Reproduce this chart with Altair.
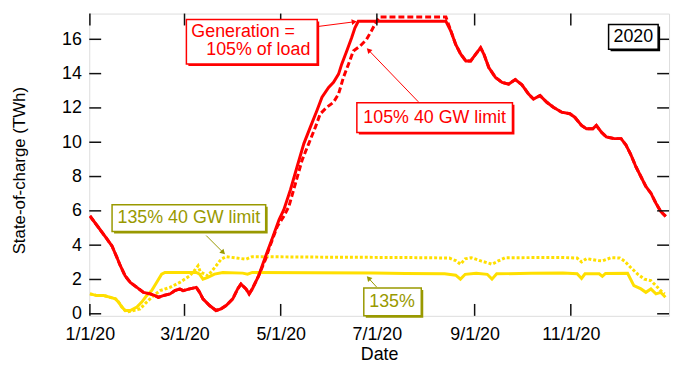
import math
import altair as alt
import pandas as pd

FONT = "Liberation Sans"
RED = "#ff0000"
YEL = "#ffdf00"
OLIVE = "#999900"

# ---- data: day of 2020 (0 = 1 Jan) and state-of-charge (TWh) ----
gen105_day = [0, 5.7, 10.9, 14, 17.2, 19.3, 22.4, 25.6, 29.8, 34, 38.2, 41.3, 43.4, 46.5,
              50.8, 53.9, 57, 59.1, 63.3, 67.5, 69.6, 71.7, 75.9, 80, 83.2, 86.4, 90.6,
              93.7, 95.8, 99, 101, 103, 107, 111.5, 115.7, 120, 123, 127.2, 131.4, 135.7,
              139.8, 144, 147.2, 151.4, 154.5, 157.7, 159.7, 162.9, 166, 168.1, 170.2,
              225.8, 229, 232, 235.2, 238.4, 241.5, 244.7, 247.8, 249.9, 253, 257.2, 261.4,
              265.6, 269.8, 274, 278.2, 281.3, 285.5, 289.8, 293.9, 299.2, 304.4, 307.5,
              311.8, 314.9, 319, 321.2, 324.3, 327.5, 332.7, 336.9, 340, 343.2, 346.3,
              349.5, 352.6, 355.8, 358.9, 362, 365.2]
gen105_val = [5.7, 5.0, 4.35, 3.95, 3.27, 2.8, 2.2, 1.83, 1.54, 1.25, 1.16, 1.06, 0.96, 1.06,
              1.16, 1.35, 1.45, 1.35, 1.45, 1.54, 1.25, 0.87, 0.48, 0.19, 0.29, 0.48, 0.87,
              1.45, 1.73, 1.45, 1.16, 1.45, 2.21, 3.37, 4.4, 5.49, 6.07, 7.23, 8.57, 9.92,
              10.88, 11.85, 12.62, 13.2, 13.49, 13.97, 14.55, 15.32, 16.09, 16.67, 17.05,
              17.05, 16.47, 15.7, 15.13, 14.74, 14.74, 15.13, 15.51, 15.13, 14.35, 13.78, 13.49,
              13.39, 13.65, 13.35, 12.81, 12.52, 12.72, 12.33, 12.04, 11.75, 11.66, 11.46,
              10.98, 10.79, 10.79, 10.98, 10.6, 10.31, 10.21, 10.21, 9.83, 9.25, 8.57,
              7.99, 7.42, 7.03, 6.46, 5.97, 5.68]

# 105% with 40 GW limit: identical to the above until early April, then its own rise and plateau
lim105_day = gen105_day[:33] + [111.5, 114, 118.9, 123, 126.2, 130.4, 134.6, 138.8, 143, 146.1,
                                150.3, 154.5, 157.7, 160.8, 164, 167.1, 171.3, 175.5, 178.6,
                                181.8, 183.8, 225.8] + gen105_day[52:]
lim105_val = gen105_val[:33] + [3.2, 3.9, 5.1, 5.68, 6.26, 7.61, 8.96, 9.92, 10.88, 11.66,
                                12.04, 12.33, 12.81, 13.78, 14.55, 15.32, 15.6, 16.0, 16.5,
                                17.05, 17.3, 17.3] + gen105_val[52:]

gen135_day = [0, 4.6, 8.8, 13, 16.2, 18.2, 20.3, 22.4, 25.6, 29.8, 32.9, 36, 39.2, 42.3, 45.5,
              47.6, 67.5, 69.6, 71.7, 74.8, 79, 84.3, 96.9, 100, 103, 180, 200, 225, 232, 235,
              238, 245, 252, 255, 258, 280, 300, 309, 311.8, 314, 323, 325, 327, 341, 345,
              349.5, 352.6, 355.8, 359, 362, 365]
gen135_val = [1.16, 1.06, 1.06, 0.96, 0.87, 0.68, 0.39, 0.19, 0.19, 0.39, 0.68, 1.06, 1.35, 1.83,
              2.31, 2.41, 2.41, 2.31, 2.02, 2.12, 2.31, 2.41, 2.37, 2.31, 2.41, 2.38, 2.35, 2.33,
              2.25, 2.02, 2.3, 2.36, 2.3, 2.02, 2.33, 2.36, 2.38, 2.33, 2.06, 2.33, 2.33, 2.18,
              2.35, 2.36, 1.64, 1.45, 1.25, 1.45, 1.16, 1.25, 0.96]

lim135_day = gen135_day[:6] + [21, 23.5, 27.7, 31.9, 36, 40.3, 44.5, 50.8, 57, 63.3, 67, 68.6, 70,
                               74.8, 80, 83.2, 86.4, 99, 103, 150, 200, 228, 232, 235, 238, 242,
                               248, 255, 259, 263.5, 300, 309, 311.8, 315, 322, 325, 330.6, 336,
                               339, 343, 347.4, 351.6, 355.8, 359, 362, 364.5]
lim135_val = gen135_val[:6] + [0.3, 0.1, 0.19, 0.29, 0.68, 1.06, 1.35, 1.54, 1.83, 2.21, 2.6, 2.8,
                               2.45, 2.21, 2.79, 3.18, 3.33, 3.18, 3.33, 3.3, 3.28, 3.25, 3.1,
                               2.89, 3.2, 3.27, 3.08, 2.89, 3.08, 3.27, 3.28, 3.25, 3.02, 3.22,
                               3.1, 3.08, 3.27, 3.25, 3.08, 2.7, 2.31, 2.02, 1.93, 1.64, 1.35,
                               1.16]

x_tick_dates = ["2020-01-01", "2020-03-01", "2020-05-01", "2020-07-01", "2020-09-01", "2020-11-01"]
y_tick_values = [0, 2, 4, 6, 8, 10, 12, 14, 16]

# ---- build tables ----
start = pd.Timestamp("2020-01-01")


def series(days, vals, name):
    return pd.DataFrame({
        "date": start + pd.to_timedelta(days, unit="D"),
        "value": vals,
        "series": name,
    })


df = pd.concat([
    series(gen135_day, gen135_val, "135%"),
    series(lim135_day, lim135_val, "135% 40 GW limit"),
    series(gen105_day, gen105_val, "105%"),
    series(lim105_day, lim105_val, "105% 40 GW limit"),
], ignore_index=True)

W, H = 585, 305
TL = 12  # inward tick length

x_scale = alt.Scale(domain=[alt.DateTime(year=2019, month=12, date=31, hours=14, minutes=24),
                            alt.DateTime(year=2021, month=1, date=2, hours=7, minutes=12)],
                    nice=False)
y_scale = alt.Scale(domain=[-0.12, 17.5], nice=False, zero=False)

x_axis = alt.Axis(
    values=[alt.DateTime(year=2020, month=m, date=1) for m in (1, 3, 5, 7, 9, 11)],
    format="%-m/%-d/%y", title="Date", grid=False, ticks=False, tickSize=0, domain=False,
    labelPadding=10, labelFlush=False, labelOverlap=False,
    labelFont=FONT, labelFontSize=18, labelColor="black",
    titleFont=FONT, titleFontSize=18, titleFontWeight="normal", titleColor="black",
    titleX=W / 2, titleY=39, titleBaseline="middle", titleAlign="center",
)
y_axis = alt.Axis(
    values=y_tick_values, title="State-of-charge (TWh)", grid=False, ticks=False, tickSize=0,
    domain=False, labelPadding=8, labelFlush=False, labelOverlap=False,
    labelFont=FONT, labelFontSize=18, labelColor="black",
    titleFont=FONT, titleFontSize=17, titleFontWeight="normal", titleColor="black",
    titleX=-70, titleY=158, titleAngle=270, titleBaseline="middle", titleAlign="center",
)

x_enc = alt.X("date:T", scale=x_scale, axis=x_axis)
y_enc = alt.Y("value:Q", scale=y_scale, axis=y_axis)


def line(name, color, width, dash=None):
    kw = dict(color=color, strokeWidth=width, clip=True)
    if dash:
        kw["strokeDash"] = dash
    return alt.Chart(df).transform_filter(alt.datum.series == name).mark_line(**kw).encode(
        x=x_enc, y=y_enc)


layers = [
    line("135%", YEL, 3),
    line("135% 40 GW limit", YEL, 3, [3, 2]),
    line("105%", RED, 3),
    line("105% 40 GW limit", RED, 3, [6, 3]),
]

# inward ticks on all four sides
xt = pd.DataFrame({"date": pd.to_datetime(x_tick_dates)})
yt = pd.DataFrame({"value": y_tick_values})
tick_style = dict(color="#111111", strokeWidth=1.5)
layers += [
    alt.Chart(xt).mark_rule(**tick_style).encode(x=x_enc, y=alt.value(H), y2=alt.value(H - TL)),
    alt.Chart(xt).mark_rule(**tick_style).encode(x=x_enc, y=alt.value(0), y2=alt.value(TL)),
    alt.Chart(yt).mark_rule(**tick_style).encode(y=y_enc, x=alt.value(0), x2=alt.value(TL)),
    alt.Chart(yt).mark_rule(**tick_style).encode(y=y_enc, x=alt.value(W - TL), x2=alt.value(W)),
]

one = pd.DataFrame({"k": [0]})


def box(x1, y1, x2, y2, color):
    shadow = alt.Chart(one).mark_rect(color=color).encode(
        x=alt.value(x1 + 2), x2=alt.value(x2 + 2), y=alt.value(y1 + 2), y2=alt.value(y2 + 2))
    face = alt.Chart(one).mark_rect(fill="white", stroke=color, strokeWidth=1.5).encode(
        x=alt.value(x1), x2=alt.value(x2), y=alt.value(y1), y2=alt.value(y2))
    return [shadow, face]


def label(text, x, y, color, align="center"):
    return alt.Chart(one).mark_text(text=text, color=color, font=FONT, fontSize=18,
                                    align=align, baseline="middle").encode(
        x=alt.value(x), y=alt.value(y))


def arrow(x1, y1, x2, y2, color):
    dx, dy = x2 - x1, y2 - y1
    n = math.hypot(dx, dy)
    ux, uy = dx / n, dy / n
    cx, cy = x2 - 3.5 * ux, y2 - 3.5 * uy
    ang = math.degrees(math.atan2(dx, -dy)) % 360
    rule = alt.Chart(one).mark_rule(color=color, strokeWidth=1).encode(
        x=alt.value(x1), y=alt.value(y1), x2=alt.value(cx), y2=alt.value(cy))
    head = alt.Chart(one).mark_point(shape="triangle", filled=True, size=35, color=color,
                                     opacity=1, angle=ang).encode(
        x=alt.value(cx), y=alt.value(cy))
    return [rule, head]


layers += arrow(231, 13, 270, 8, RED)
layers += arrow(332, 89, 280, 35, RED)
layers += arrow(118, 224, 137, 243, OLIVE)
layers += arrow(290, 276, 280, 265, OLIVE)

layers += box(98, 6, 230, 51, RED)
layers += [label("Generation =", 103, 19, RED, "left"), label("105% of load", 118, 37, RED, "left")]
layers += box(270, 90, 427, 120, RED)
layers += [label("105% 40 GW limit", 348.5, 105, RED)]
layers += box(524, 11, 574, 36, "black")
layers += [label("2020", 549, 23.5, "black")]
layers += box(23, 193, 178, 220, OLIVE)
layers += [label("135% 40 GW limit", 100.5, 206, OLIVE)]
layers += box(277, 277, 335, 305, OLIVE)
layers += [label("135%", 305.5, 291, OLIVE)]

chart = alt.layer(*layers).properties(
    width=W, height=H,
    autosize=alt.AutoSizeParams(type="none"),
    padding={"left": 82, "top": 4, "right": 5, "bottom": 50},
).configure_view(stroke="#111111", strokeWidth=1.5).configure(background="white")

chart.save("out.html", embed_options={"renderer": "svg", "actions": False})
